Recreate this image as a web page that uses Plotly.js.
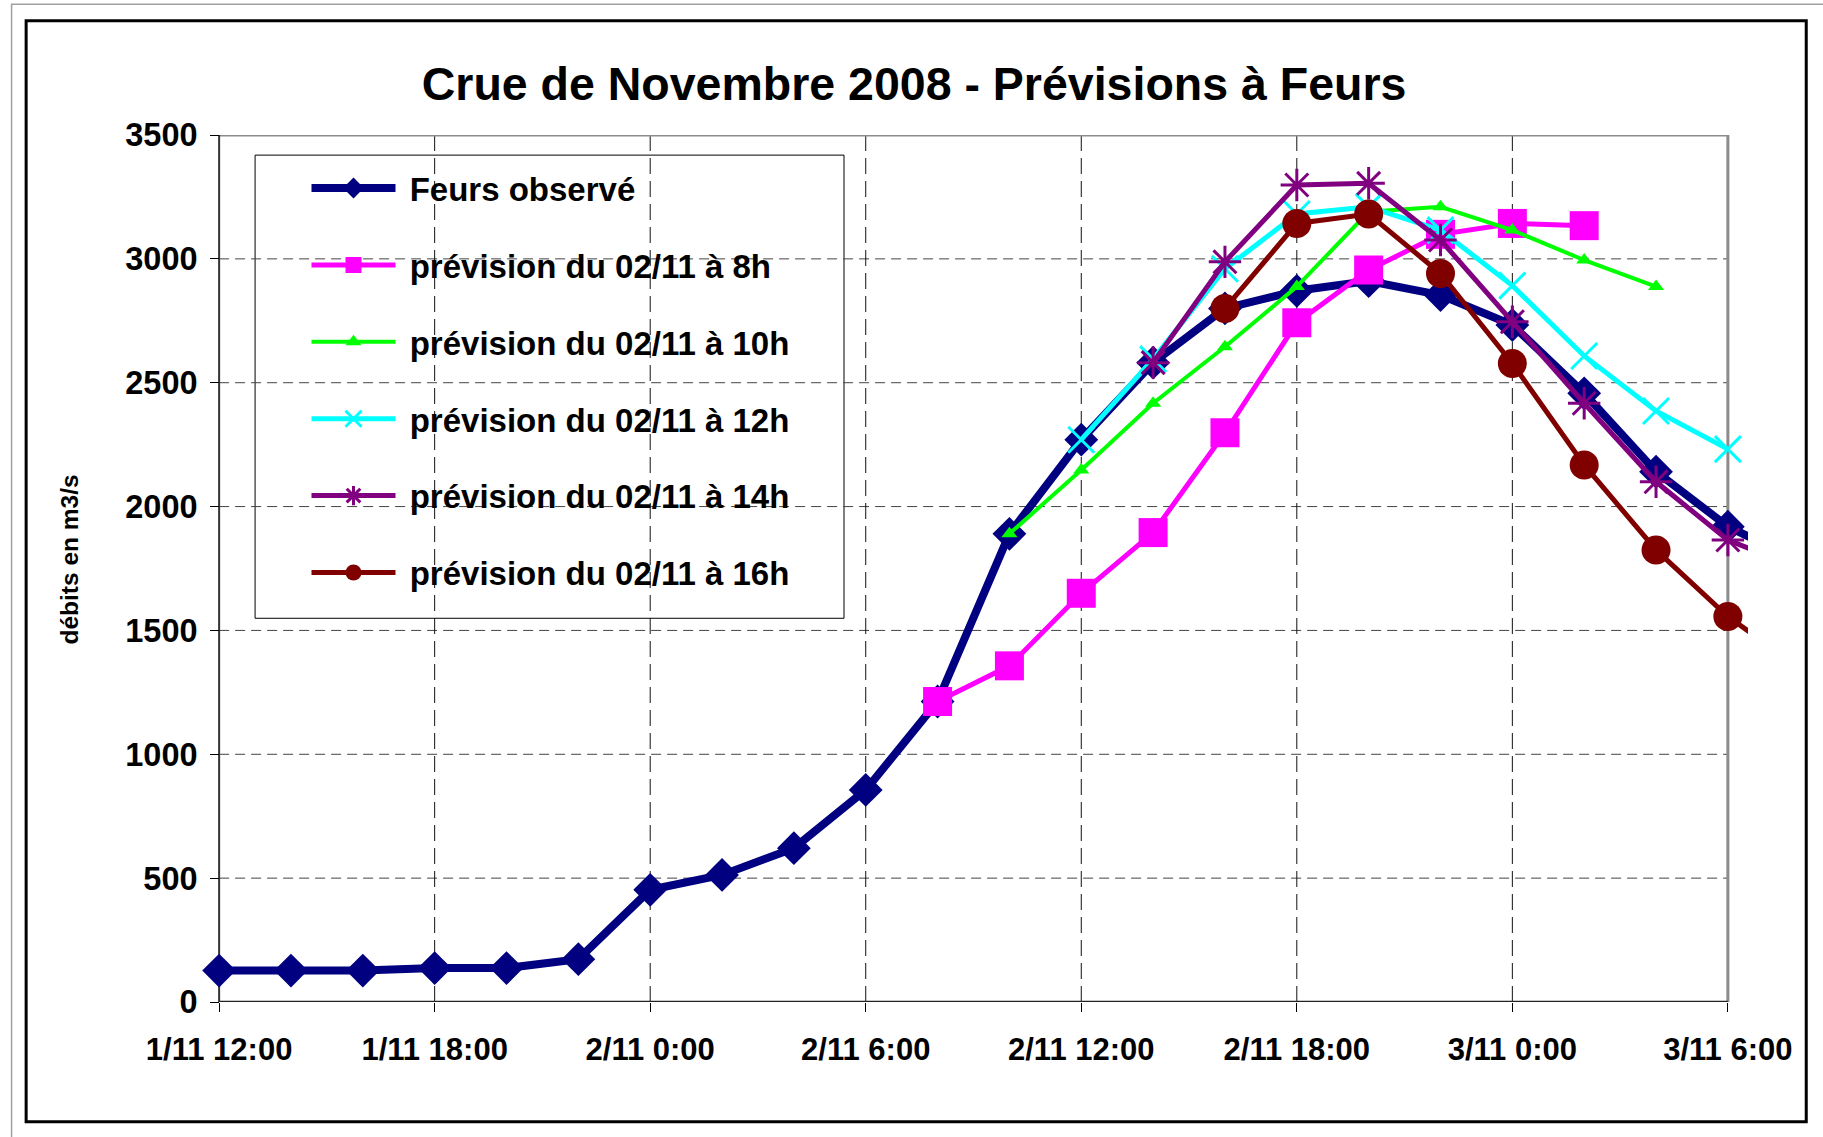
<!DOCTYPE html>
<html><head><meta charset="utf-8">
<script src="https://cdn.plot.ly/plotly-3.0.1.min.js"></script>
<style>html,body{margin:0;padding:0;background:#fff;}#chart{width:1823px;height:1137px;}</style>
</head><body><div id="chart"></div>
<script>
// time stamps (every 2 hours)
const times = ['2008-11-01 12:00','2008-11-01 14:00','2008-11-01 16:00','2008-11-01 18:00','2008-11-01 20:00','2008-11-01 22:00',
  '2008-11-02 00:00','2008-11-02 02:00','2008-11-02 04:00','2008-11-02 06:00','2008-11-02 08:00','2008-11-02 10:00',
  '2008-11-02 12:00','2008-11-02 14:00','2008-11-02 16:00','2008-11-02 18:00','2008-11-02 20:00','2008-11-02 22:00',
  '2008-11-03 00:00','2008-11-03 02:00','2008-11-03 04:00','2008-11-03 06:00','2008-11-03 08:00'];
const observed = [127,127,127,137,137,173,453,513,621,856,1213,1890,2270,2581,2800,2871,2910,2854,2733,2457,2141,1919,1780];
const prev8h  = [null,null,null,null,null,null,null,null,null,null,1213,1357,1650,1895,2298,2742,2955,3099,3143,3134,null,null,null];
const prev10h = [null,null,null,null,null,null,null,null,null,null,null,1890,2148,2417,2645,2888,3190,3210,3116,2995,2888,null,null];
const prev12h = [null,null,null,null,null,null,null,null,null,null,null,null,2270,2595,2960,3181,3210,3116,2892,2608,2386,2232,null];
const prev14h = [null,null,null,null,null,null,null,null,null,null,null,null,null,2581,2988,3298,3305,3076,2746,2417,2100,1865,1750];
const prev16h = [null,null,null,null,null,null,null,null,null,null,null,null,null,null,2800,3143,3181,2941,2578,2168,1825,1556,1350];
const seriesNames = ['Feurs observé','prévision du 02/11 à 8h','prévision du 02/11 à 10h','prévision du 02/11 à 12h','prévision du 02/11 à 14h','prévision du 02/11 à 16h'];
const tickTimes = ['2008-11-01 12:00','2008-11-01 18:00','2008-11-02 00:00','2008-11-02 06:00','2008-11-02 12:00','2008-11-02 18:00','2008-11-03 00:00','2008-11-03 06:00'];
const tickLabels = ['1/11 12:00','1/11 18:00','2/11 0:00','2/11 6:00','2/11 12:00','2/11 18:00','3/11 0:00','3/11 6:00'];
const yTicks = [0,500,1000,1500,2000,2500,3000,3500];

const FONT = 'Liberation Sans, Arial, Helvetica, sans-serif';
const seriesValues = [observed, prev8h, prev10h, prev12h, prev14h, prev16h];
const styles = [
  {color:'#000080', width:8, symbol:'diamond', size:26},
  {color:'#FF00FF', width:5, symbol:'square', size:29},
  {color:'#00FF00', width:4, symbol:'triangle-up', size:14},
  {color:'#00FFFF', width:5, symbol:'x-thin', size:26, lw:3},
  {color:'#800080', width:5, symbol:'asterisk', size:27, lw:3},
  {color:'#800000', width:5, symbol:'circle', size:29}
];
const traces = seriesValues.map((vals, i) => {
  const s = styles[i];
  const marker = {symbol:s.symbol, size:s.size, color:s.color, line:{color:s.color, width:s.lw || 0}};
  return {
    type:'scatter', mode:'lines+markers', x:times, y:vals, name:'\u00a0' + seriesNames[i],
    legendgroup:'g'+i, line:{color:s.color, width:s.width}, marker:marker,
    connectgaps:false, hoverinfo:'x+y'
  };
});

const first = tickTimes[0], last = tickTimes[tickTimes.length-1];
const yTop = yTicks[yTicks.length-1];
const shapes = [];
yTicks.forEach(v => {
  if (v > 0 && v < yTop) {
    shapes.push({type:'line', xref:'x', yref:'y', x0:first, x1:last, y0:v, y1:v, layer:'below',
      line:{color:'#444', width:1, dash:'10px,6px'}});
  }
});
tickTimes.forEach((t, i) => {
  if (i > 0 && i < tickTimes.length-1) {
    shapes.push({type:'line', xref:'x', yref:'y', x0:t, x1:t, y0:0, y1:yTop, layer:'below',
      line:{color:'#111', width:1, dash:'16px,7px'}});
  }
});
shapes.push({type:'line', xref:'x', yref:'y', x0:first, x1:last, y0:yTop, y1:yTop, layer:'below', line:{color:'#8c8c8c', width:3}});
shapes.push({type:'line', xref:'x', yref:'y', x0:last, x1:last, y0:0, y1:yTop, layer:'below', line:{color:'#8c8c8c', width:3}});
shapes.push({type:'line', xref:'x', yref:'y', x0:first, x1:first, y0:0, y1:yTop, layer:'below', line:{color:'#333', width:2}});
shapes.push({type:'line', xref:'x', yref:'y', x0:first, x1:last, y0:0, y1:0, layer:'below', line:{color:'#222', width:2.5}});
// legend frame
shapes.push({type:'rect', xref:'paper', yref:'paper', x0:0.03621, x1:0.4164, y0:0.4426, y1:0.9768, layer:'below',
  fillcolor:'#fff', line:{color:'#000', width:1}});
// outer frames
shapes.push({type:'rect', xref:'paper', yref:'paper', x0:-0.1210, x1:1.06, y0:-0.17, y1:1.1509, line:{color:'#a0a0a0', width:1.5}});
shapes.push({type:'rect', xref:'paper', yref:'paper', x0:-0.1116, x1:1.0376, y0:-0.1381, y1:1.1317, line:{color:'#000', width:3}});

const layout = {
  width:1823, height:1137,
  margin:{l:198.5, r:75.3, t:134.9, b:134.8, pad:0},
  paper_bgcolor:'#fff', plot_bgcolor:'#fff',
  font:{family:FONT, color:'#000'},
  title:{text:'Crue de Novembre 2008 - Prévisions à Feurs', font:{family:FONT, size:46.5, weight:'bold', color:'#000'},
    x:0.5014, xref:'container', xanchor:'center', y:1-84/1137, yref:'container', yanchor:'middle'},
  xaxis:{type:'date', range:['2008-11-01 11:26:24','2008-11-03 06:33:36'], tickmode:'array', tickvals:tickTimes, ticktext:tickLabels,
    ticks:'outside', ticklen:9, tickwidth:1, tickcolor:'#000', showgrid:false, zeroline:false, showline:false,
    tickfont:{family:FONT, size:31, weight:'bold', color:'#000'}, ticklabelstandoff:11, fixedrange:true},
  yaxis:{range:[0,3500], tickmode:'array', tickvals:yTicks, ticktext:yTicks.map(String), anchor:'free', position:0.01297,
    ticks:'outside', ticklen:9, tickwidth:1, tickcolor:'#000', showgrid:false, zeroline:false, showline:false,
    tickfont:{family:FONT, size:32.5, weight:'bold', color:'#000'}, ticklabelstandoff:6, fixedrange:true},
  showlegend:true,
  legend:{x:0.0694, y:0.9711, xanchor:'left', yanchor:'top', bgcolor:'rgba(0,0,0,0)', borderwidth:0,
    font:{family:FONT, size:33, weight:'bold', color:'#000'}, traceorder:'grouped', tracegroupgap:31, itemwidth:84},
  annotations:[{text:'débits en m3/s', xref:'paper', yref:'paper', x:-0.0835, y:0.5099, textangle:-90, showarrow:false,
    xanchor:'center', yanchor:'middle', font:{family:FONT, size:24.5, weight:'bold', color:'#000'}}],
  shapes:shapes
};
Plotly.newPlot('chart', traces, layout, {displayModeBar:false, staticPlot:true});
</script></body></html>
